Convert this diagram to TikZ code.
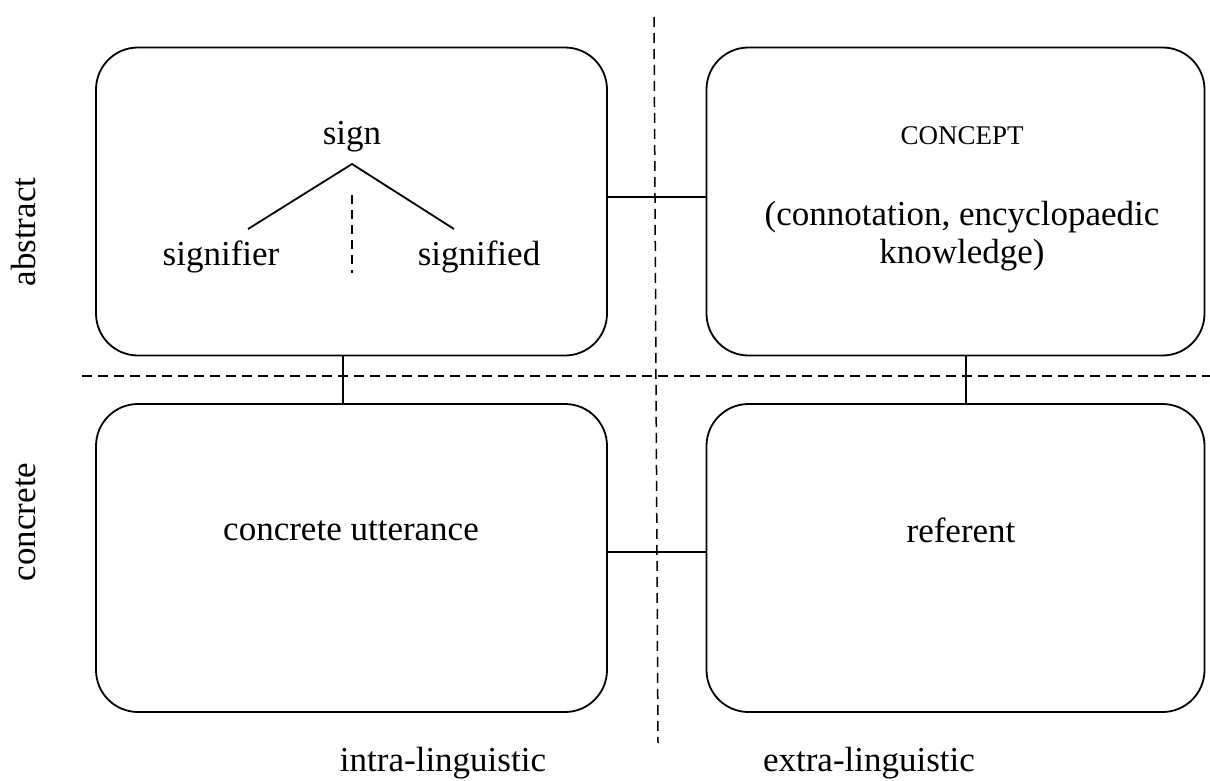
\documentclass[tikz,border=0pt]{standalone}
\usepackage{fontspec}
\setmainfont{Liberation Serif}
\usetikzlibrary{positioning}

\begin{document}
\begin{tikzpicture}[x=0.5pt,y=-0.5pt,
    box/.style={draw, line width=0.9pt, rounded corners=21pt, minimum height=154pt, inner sep=0pt},
    lbl/.style={font=\fontsize{17.5}{19}\selectfont, inner sep=0pt},
    link/.style={line width=0.9pt},
    divider/.style={line width=0.75pt, dash pattern=on 5pt off 3pt}]
    \useasboundingbox (0,0) rectangle (1210,781);

    % the four boxes
    \node[box, minimum width=255.5pt] (abs-intra) at (351.5,201.5) {};
    \node[box, minimum width=249pt] (abs-extra) at (955.5,201.5) {};
    \node[box, minimum width=255.5pt] (con-intra) at (351.5,558) {};
    \node[box, minimum width=249pt] (con-extra) at (955.5,558) {};

    % sign tree
    \node[lbl, anchor=base] (sign) at (352,145) {sign};
    \node[lbl, anchor=base] (signifier) at (221,265) {signifier};
    \node[lbl, anchor=base] (signified) at (479,265) {signified};
    \coordinate (apex) at (352,164);
    \coordinate (leftend) at (248,229);
    \coordinate (rightend) at (454,229);
    \draw[link] (leftend) -- (apex) -- (rightend);
    \draw[divider, dash pattern=on 4.5pt off 3pt] (352,195) -- (352,273);

    % concept
    \node[lbl, anchor=base, font=\fontsize{13.5}{15}\selectfont] (concept) at (962,145) {CONCEPT};
    \node[lbl, align=center] (knowledge) at (962,236) {(connotation, encyclopaedic\\knowledge)};

    % concrete side
    \node[lbl, anchor=base] (utterance) at (351,540) {concrete utterance};
    \node[lbl, anchor=base] (referent) at (961,542) {referent};

    % links between boxes
    \draw[link] ([yshift=2.25pt]abs-intra.east) -- ([yshift=2.25pt]abs-extra.west);
    \draw[link] ([xshift=-4.25pt]abs-intra.south) -- ([xshift=-4.25pt]con-intra.north);
    \draw[link] ([xshift=5.25pt]abs-extra.south) -- ([xshift=5.25pt]con-extra.north);
    \draw[link] ([yshift=3pt]con-intra.east) -- ([yshift=3pt]con-extra.west);

    % quadrant lines
    \draw[divider] (82,376) -- (1210,376);
    \draw[divider] (654,17) -- (658,743);

    % axis labels
    \node[lbl, rotate=90, anchor=base] (abstract) at (35,232) {abstract};
    \node[lbl, rotate=90, anchor=base] (concrete) at (35,522) {concrete};
    \node[lbl, anchor=base] (intra) at (443,771) {intra-linguistic};
    \node[lbl, anchor=base] (extra) at (869,771) {extra-linguistic};
\end{tikzpicture}
\end{document}
